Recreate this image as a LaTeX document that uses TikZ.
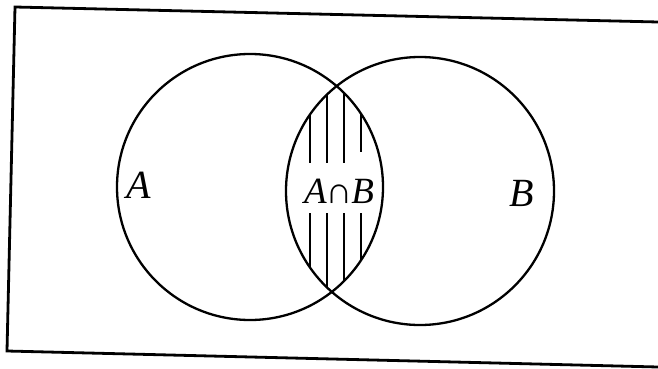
\documentclass[tikz,border=0pt]{standalone}
\usepackage{fontspec}
\setmainfont{Liberation Serif}
\begin{document}
\begin{tikzpicture}[x=1pt,y=-1pt,
  frame/.style={line width=2.8pt,line join=miter},
  setcircle/.style={line width=2.3pt},
  hatch/.style={line width=1.6pt},
  lbl/.style={inner sep=0pt,font=\fontsize{40}{44}\selectfont\itshape},
  lbls/.style={inner sep=0pt,font=\fontsize{37}{40}\selectfont}]
\useasboundingbox (0,0) rectangle (658,369);
\coordinate (c1) at (658,22);
\coordinate (c2) at (15,7);
\coordinate (c3) at (7,351);
\coordinate (c4) at (658,367);
\draw[frame] (c1) -- (c2) -- (c3) -- (c4);
% hatching of the intersection
\begin{scope}
  \clip (250,187) circle[radius=133];
  \clip (420,191) circle[radius=134];
  \foreach \x/\t in {310/163,327/163,344/163,361/152}{
    \draw[hatch] (\x,60) -- (\x,\t);
    \draw[hatch] (\x,213) -- (\x,320);
  }
\end{scope}
\node[setcircle,draw,circle,minimum size=266pt,inner sep=0pt] (A) at (250,187) {};
\node[setcircle,draw,circle,minimum size=268pt,inner sep=0pt] (B) at (420,191) {};
\node[lbl] (la) at (139,185) {A};
\node[lbl] (lb) at (522,193) {B};
\node[lbls] (lab) at (339,191) {\itshape A\kern-1pt\upshape ∩\kern-1pt\itshape B};
\end{tikzpicture}
\end{document}
